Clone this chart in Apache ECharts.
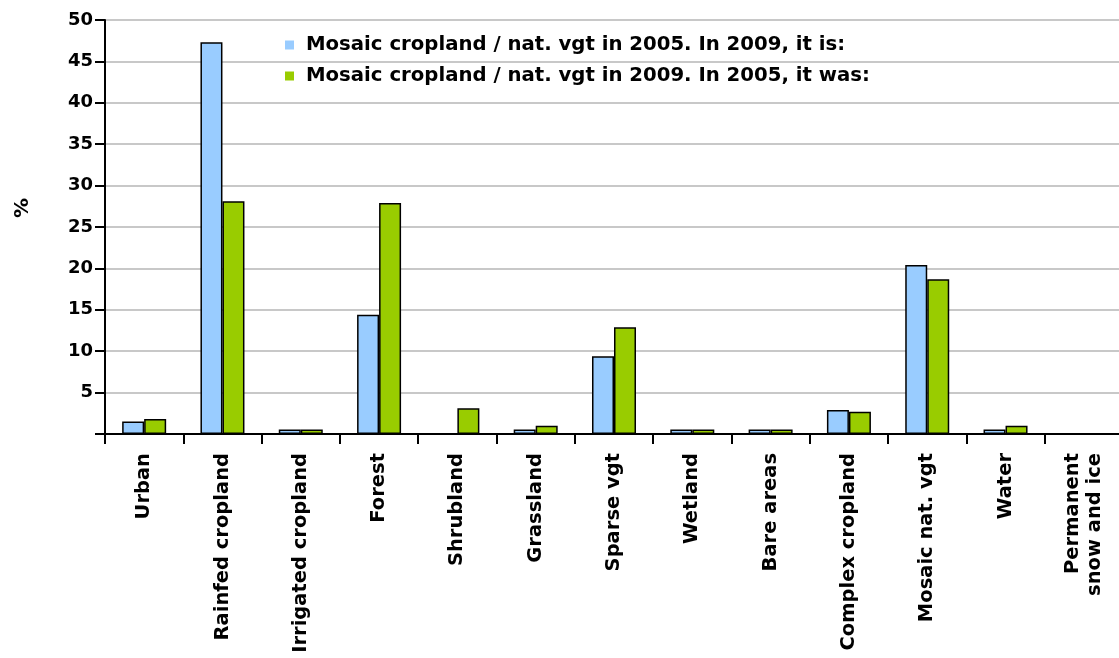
<!DOCTYPE html>
<html>
<head>
<meta charset="utf-8">
<script src="https://cdn.jsdelivr.net/npm/echarts@6/dist/echarts.min.js"></script>
<style>
  html, body { margin: 0; padding: 0; background: #fff; }
  #chart { width: 1119px; height: 658px; }
</style>
</head>
<body>
<div id="chart"></div>
<script>
// Land cover classes (x axis)
const categories = [
  'Urban', 'Rainfed cropland', 'Irrigated cropland', 'Forest', 'Shrubland',
  'Grassland', 'Sparse vgt', 'Wetland', 'Bare areas', 'Complex cropland',
  'Mosaic nat. vgt', 'Water', 'Permanent\nsnow and ice'
];

// Share (%) of 2005 mosaic cropland / natural vegetation by its 2009 class
const from2005 = [1.5, 47.3, 0.55, 14.4, 0, 0.55, 9.4, 0.55, 0.55, 2.9, 20.4, 0.55, 0];
// Share (%) of 2009 mosaic cropland / natural vegetation by its 2005 class
const to2009 = [1.8, 28.1, 0.55, 27.9, 3.1, 1.0, 12.9, 0.55, 0.55, 2.7, 18.7, 1.0, 0];

const seriesNames = [
  'Mosaic cropland / nat. vgt in 2005. In 2009, it is:',
  'Mosaic cropland / nat. vgt in 2009. In 2005, it was:'
];

const yMin = 0, yMax = 50, yStep = 5;

const FONT = 'DejaVu Sans';
const chart = echarts.init(document.getElementById('chart'), null, { renderer: 'canvas' });

chart.setOption({
  animation: false,
  backgroundColor: '#ffffff',
  grid: {
    left: 105, top: 20, width: 1018, height: 414,
    outerBoundsMode: 'none',
    containLabel: false,
    show: true, borderColor: '#000', borderWidth: 2, backgroundColor: 'transparent'
  },
  legend: {
    orient: 'vertical',
    left: 280, top: 30,
    itemWidth: 9, itemHeight: 9, itemGap: 11,
    icon: 'rect',
    itemStyle: { borderWidth: 0 },
    textStyle: { fontFamily: FONT, fontWeight: 'bold', fontSize: 19.7, color: '#000', padding: [0, 0, 0, 7] },
    data: seriesNames
  },
  xAxis: {
    type: 'category',
    data: categories,
    axisLine: { lineStyle: { color: '#000', width: 2 } },
    axisTick: { show: true, length: 10, lineStyle: { color: '#000', width: 2 } },
    axisLabel: {
      interval: 0, rotate: 90, margin: 19,
      fontFamily: FONT, fontWeight: 'bold', fontSize: 19.5, color: '#000', lineHeight: 22
    },
    splitLine: { show: false }
  },
  yAxis: {
    type: 'value',
    min: yMin, max: yMax, interval: yStep,
    name: '%',
    nameLocation: 'middle', nameRotate: 90, nameGap: 72,
    nameTextStyle: { fontFamily: FONT, fontWeight: 'bold', fontSize: 20, color: '#000', padding: [0, 0, 0, 38] },
    axisLine: { show: true, lineStyle: { color: '#000', width: 2 } },
    axisTick: { show: true, length: 10, lineStyle: { color: '#000', width: 2 } },
    axisLabel: {
      margin: 12,
      fontFamily: FONT, fontWeight: 'bold', fontSize: 18, color: '#000',
      formatter: v => (v === 0 ? '' : String(v))
    },
    splitLine: { show: true, lineStyle: { color: '#c8c8c8', width: 2 } }
  },
  series: [
    {
      name: seriesNames[0],
      type: 'bar',
      data: from2005,
      barWidth: 22,
      barGap: '0%',
      itemStyle: { color: '#99ccff', borderColor: '#000', borderWidth: 1.5 }
    },
    {
      name: seriesNames[1],
      type: 'bar',
      data: to2009,
      barWidth: 22,
      barGap: '0%',
      itemStyle: { color: '#99cc00', borderColor: '#000', borderWidth: 1.5 }
    }
  ]
});
</script>
</body>
</html>
